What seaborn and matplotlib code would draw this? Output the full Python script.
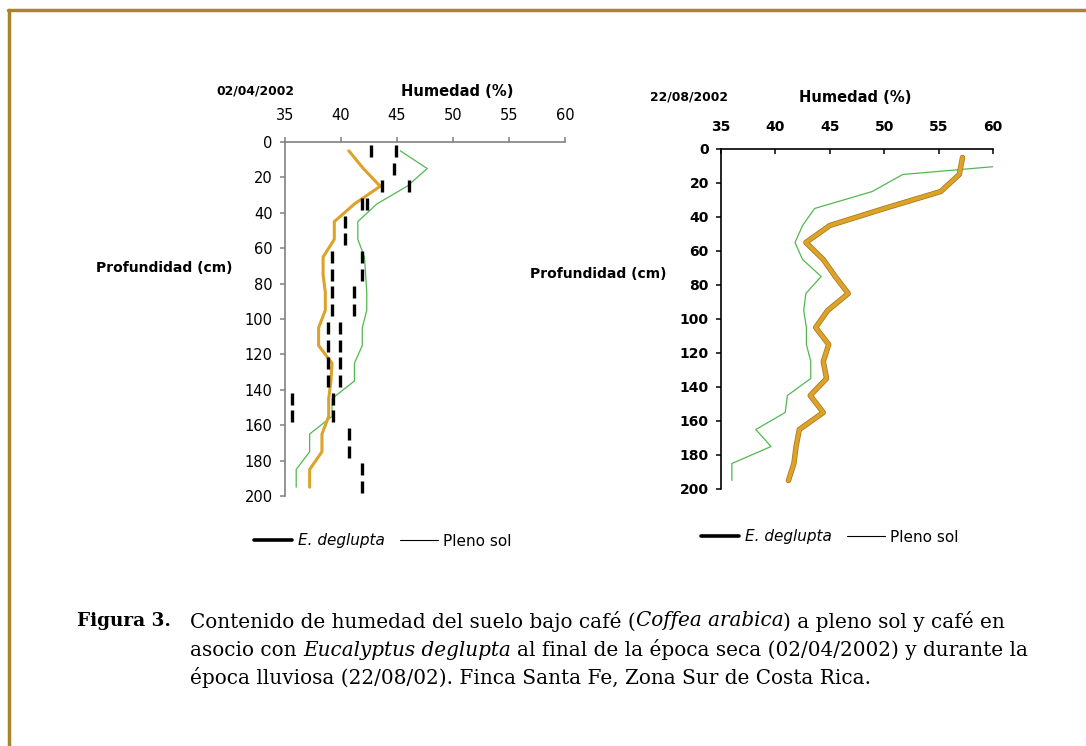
import matplotlib
matplotlib.use("Agg")
import matplotlib.pyplot as plt
import matplotlib.patheffects as pe
from matplotlib.lines import Line2D
import seaborn as sns

W, H = 1086, 746

# profundidad (cm), centro de cada capa de 10 cm
depth = [5, 15, 25, 35, 45, 55, 65, 75, 85, 95,
         105, 115, 125, 135, 145, 155, 165, 175, 185, 195]

# 02/04/2002
abr_deglupta = [40.7, 42.0, 43.5, 41.2, 39.4, 39.4, 38.4, 38.4, 38.6, 38.6,
                38.0, 38.0, 39.2, 39.1, 38.9, 38.9, 38.3, 38.3, 37.2, 37.2]
abr_pleno_sol = [45.3, 47.7, 45.9, 43.2, 41.5, 41.5, 42.1, 42.2, 42.3, 42.3,
                 41.9, 41.9, 41.2, 41.2, 39.2, 39.2, 37.2, 37.2, 36.0, 36.0]
abr_marca_a = [42.65, None, 43.7, 41.85, 40.4, 40.4, 39.2, 39.2, 39.2, 39.2,
               38.8, 38.8, 38.8, 38.8, 35.6, 35.6, 40.7, 40.7, 41.9, 41.9]
abr_marca_b = [44.9, 44.7, 46.1, 42.35, None, None, 41.9, 41.9, 41.2, 41.2,
               39.9, 39.9, 39.9, 39.9, 39.3, 39.3, None, None, None, None]

# 22/08/2002
ago_deglupta = [57.2, 56.9, 55.2, 50.0, 45.0, 42.8, 44.4, 45.5, 46.7, 44.8,
                43.7, 44.9, 44.4, 44.7, 43.2, 44.4, 42.2, 41.9, 41.7, 41.2]
ago_pleno_sol = [69.8, 51.7, 48.9, 43.6, 42.5, 41.8, 42.5, 44.2, 42.8, 42.6,
                 42.85, 42.85, 43.25, 43.25, 41.1, 40.9, 38.2, 39.6, 36.0, 36.0]

x_ticks = [35, 40, 45, 50, 55, 60]
y_ticks = [0, 20, 40, 60, 80, 100, 120, 140, 160, 180, 200]

ORANGE = "#dca229"
GREEN = "#52b84e"
FRAME = "#a8842c"

sns.set_style("white")
plt.rcParams["font.family"] = ["DejaVu Sans"]
plt.rcParams["text.color"] = "black"
plt.rcParams["xtick.color"] = "black"
plt.rcParams["ytick.color"] = "black"

fig = plt.figure(figsize=(W / 100, H / 100), dpi=100)


def fx(x):
    return x / W


def fy(y):
    return 1 - y / H


def rect(left, top, right, bottom):
    return [fx(left), fy(bottom), (right - left) / W, (bottom - top) / H]


def setup_axis(ax, bold, spine_color, x_dir, x_pad, y_pad, size):
    ax.set_xlim(35, 60)
    ax.set_ylim(200, 0)
    ax.set_xticks(x_ticks)
    ax.set_yticks(y_ticks)
    ax.xaxis.tick_top()
    ax.set_xlabel("")
    ax.set_ylabel("")
    for side in ["right", "bottom"]:
        ax.spines[side].set_visible(False)
    for side in ["top", "left"]:
        ax.spines[side].set_color(spine_color)
        ax.spines[side].set_linewidth(1.2)
    ax.tick_params(axis="x", direction=x_dir, length=3.5, width=1.1, color=spine_color,
                   labelcolor="black", pad=x_pad, labelsize=size, top=True, bottom=False)
    ax.tick_params(axis="y", direction="out", length=3.8, width=1.1, color=spine_color,
                   labelcolor="black", pad=y_pad, labelsize=size, left=True)
    weight = "bold" if bold else "normal"
    for lab in ax.get_xticklabels() + ax.get_yticklabels():
        lab.set_fontweight(weight)
    ax.patch.set_alpha(0)
    ax.grid(False)


# ---- panel izquierdo (02/04/2002)
ax1 = fig.add_axes(rect(285, 142, 565, 496))
sns.lineplot(x=abr_pleno_sol, y=depth, orient="y", estimator=None, sort=False,
             color=GREEN, linewidth=0.9, ax=ax1)
sns.lineplot(x=abr_deglupta, y=depth, orient="y", estimator=None, sort=False,
             color=ORANGE, linewidth=2.2, ax=ax1)
for serie in [abr_marca_a, abr_marca_b]:
    pts = [(v, d) for v, d in zip(serie, depth) if v is not None]
    ax1.plot([p[0] for p in pts], [p[1] for p in pts], linestyle="none",
             marker="|", markersize=8.5, markeredgewidth=2.4, color="black")
setup_axis(ax1, False, "#808080", "out", 10.5, 5, 10.5)

# ---- panel derecho (22/08/2002)
ax2 = fig.add_axes(rect(721, 149, 993, 489))
sns.lineplot(x=ago_pleno_sol, y=depth, orient="y", estimator=None, sort=False,
             color=GREEN, linewidth=0.9, ax=ax2)
sns.lineplot(x=ago_deglupta, y=depth, orient="y", estimator=None, sort=False,
             color=ORANGE, linewidth=2.8, ax=ax2,
             path_effects=[pe.Stroke(linewidth=3.9, foreground="#a87818"), pe.Normal()])
setup_axis(ax2, True, "black", "in", 10.5, 5, 10)

# ---- textos de los ejes
fig.text(fx(255), fy(91), "02/04/2002", ha="center", va="center",
         fontsize=8.9, fontweight="bold")
fig.text(fx(457), fy(91), "Humedad (%)", ha="center", va="center",
         fontsize=10.6, fontweight="bold")
fig.text(fx(164), fy(268), "Profundidad (cm)", ha="center", va="center",
         fontsize=10, fontweight="bold")

fig.text(fx(689), fy(97), "22/08/2002", ha="center", va="center",
         fontsize=8.9, fontweight="bold")
fig.text(fx(855), fy(97), "Humedad (%)", ha="center", va="center",
         fontsize=10.6, fontweight="bold")
fig.text(fx(598), fy(274), "Profundidad (cm)", ha="center", va="center",
         fontsize=10, fontweight="bold")

# ---- leyendas
handles = [Line2D([], [], color="black", linewidth=2.6),
           Line2D([], [], color="black", linewidth=0.8)]
for cx, cy in [(383, 541), (830, 537)]:
    leg = fig.legend(handles, ["E. deglupta", "Pleno sol"], ncol=2, frameon=False,
                     loc="center", bbox_to_anchor=(fx(cx), fy(cy)),
                     fontsize=11, handlelength=2.5, handletextpad=0.35,
                     columnspacing=1.0)
    leg.get_texts()[0].set_style("italic")

# ---- marco
fig.add_artist(Line2D([fx(8), 1], [fy(10), fy(10)], color=FRAME, linewidth=2.5))
fig.add_artist(Line2D([fx(9), fx(9)], [fy(10), 0], color=FRAME, linewidth=2.5))

# ---- leyenda de la figura
serif = ["DejaVu Serif"]
cap_size = 14.4
fig.text(fx(77), fy(621), "Figura 3.", ha="left", va="center", family=serif,
         fontsize=13.3, fontweight="bold")

renderer = fig.canvas.get_renderer()


def text_width(txt, style):
    t = fig.text(0, 0, txt, family=serif, fontsize=cap_size, style=style)
    w = t.get_window_extent(renderer).width
    t.remove()
    return w


space = text_width("a a", "normal") - text_width("aa", "normal")

caption = [
    (621, [("Contenido de humedad del suelo bajo café (", "normal", 0),
           ("Coffea arabica", "italic", 0),
           (") a pleno sol y café en", "normal", 0)]),
    (650, [("asocio con", "normal", 0),
           ("Eucalyptus deglupta", "italic", 1),
           ("al final de la época seca (02/04/2002) y durante la", "normal", 1)]),
    (678, [("época lluviosa (22/08/02). Finca Santa Fe, Zona Sur de Costa Rica.", "normal", 0)]),
]
for y, segs in caption:
    x = 190
    for txt, style, gap in segs:
        x += gap * space
        t = fig.text(fx(x), fy(y), txt, ha="left", va="center", family=serif,
                     fontsize=cap_size, style=style)
        x += t.get_window_extent(renderer).width

fig.savefig("out.png", dpi=100)
